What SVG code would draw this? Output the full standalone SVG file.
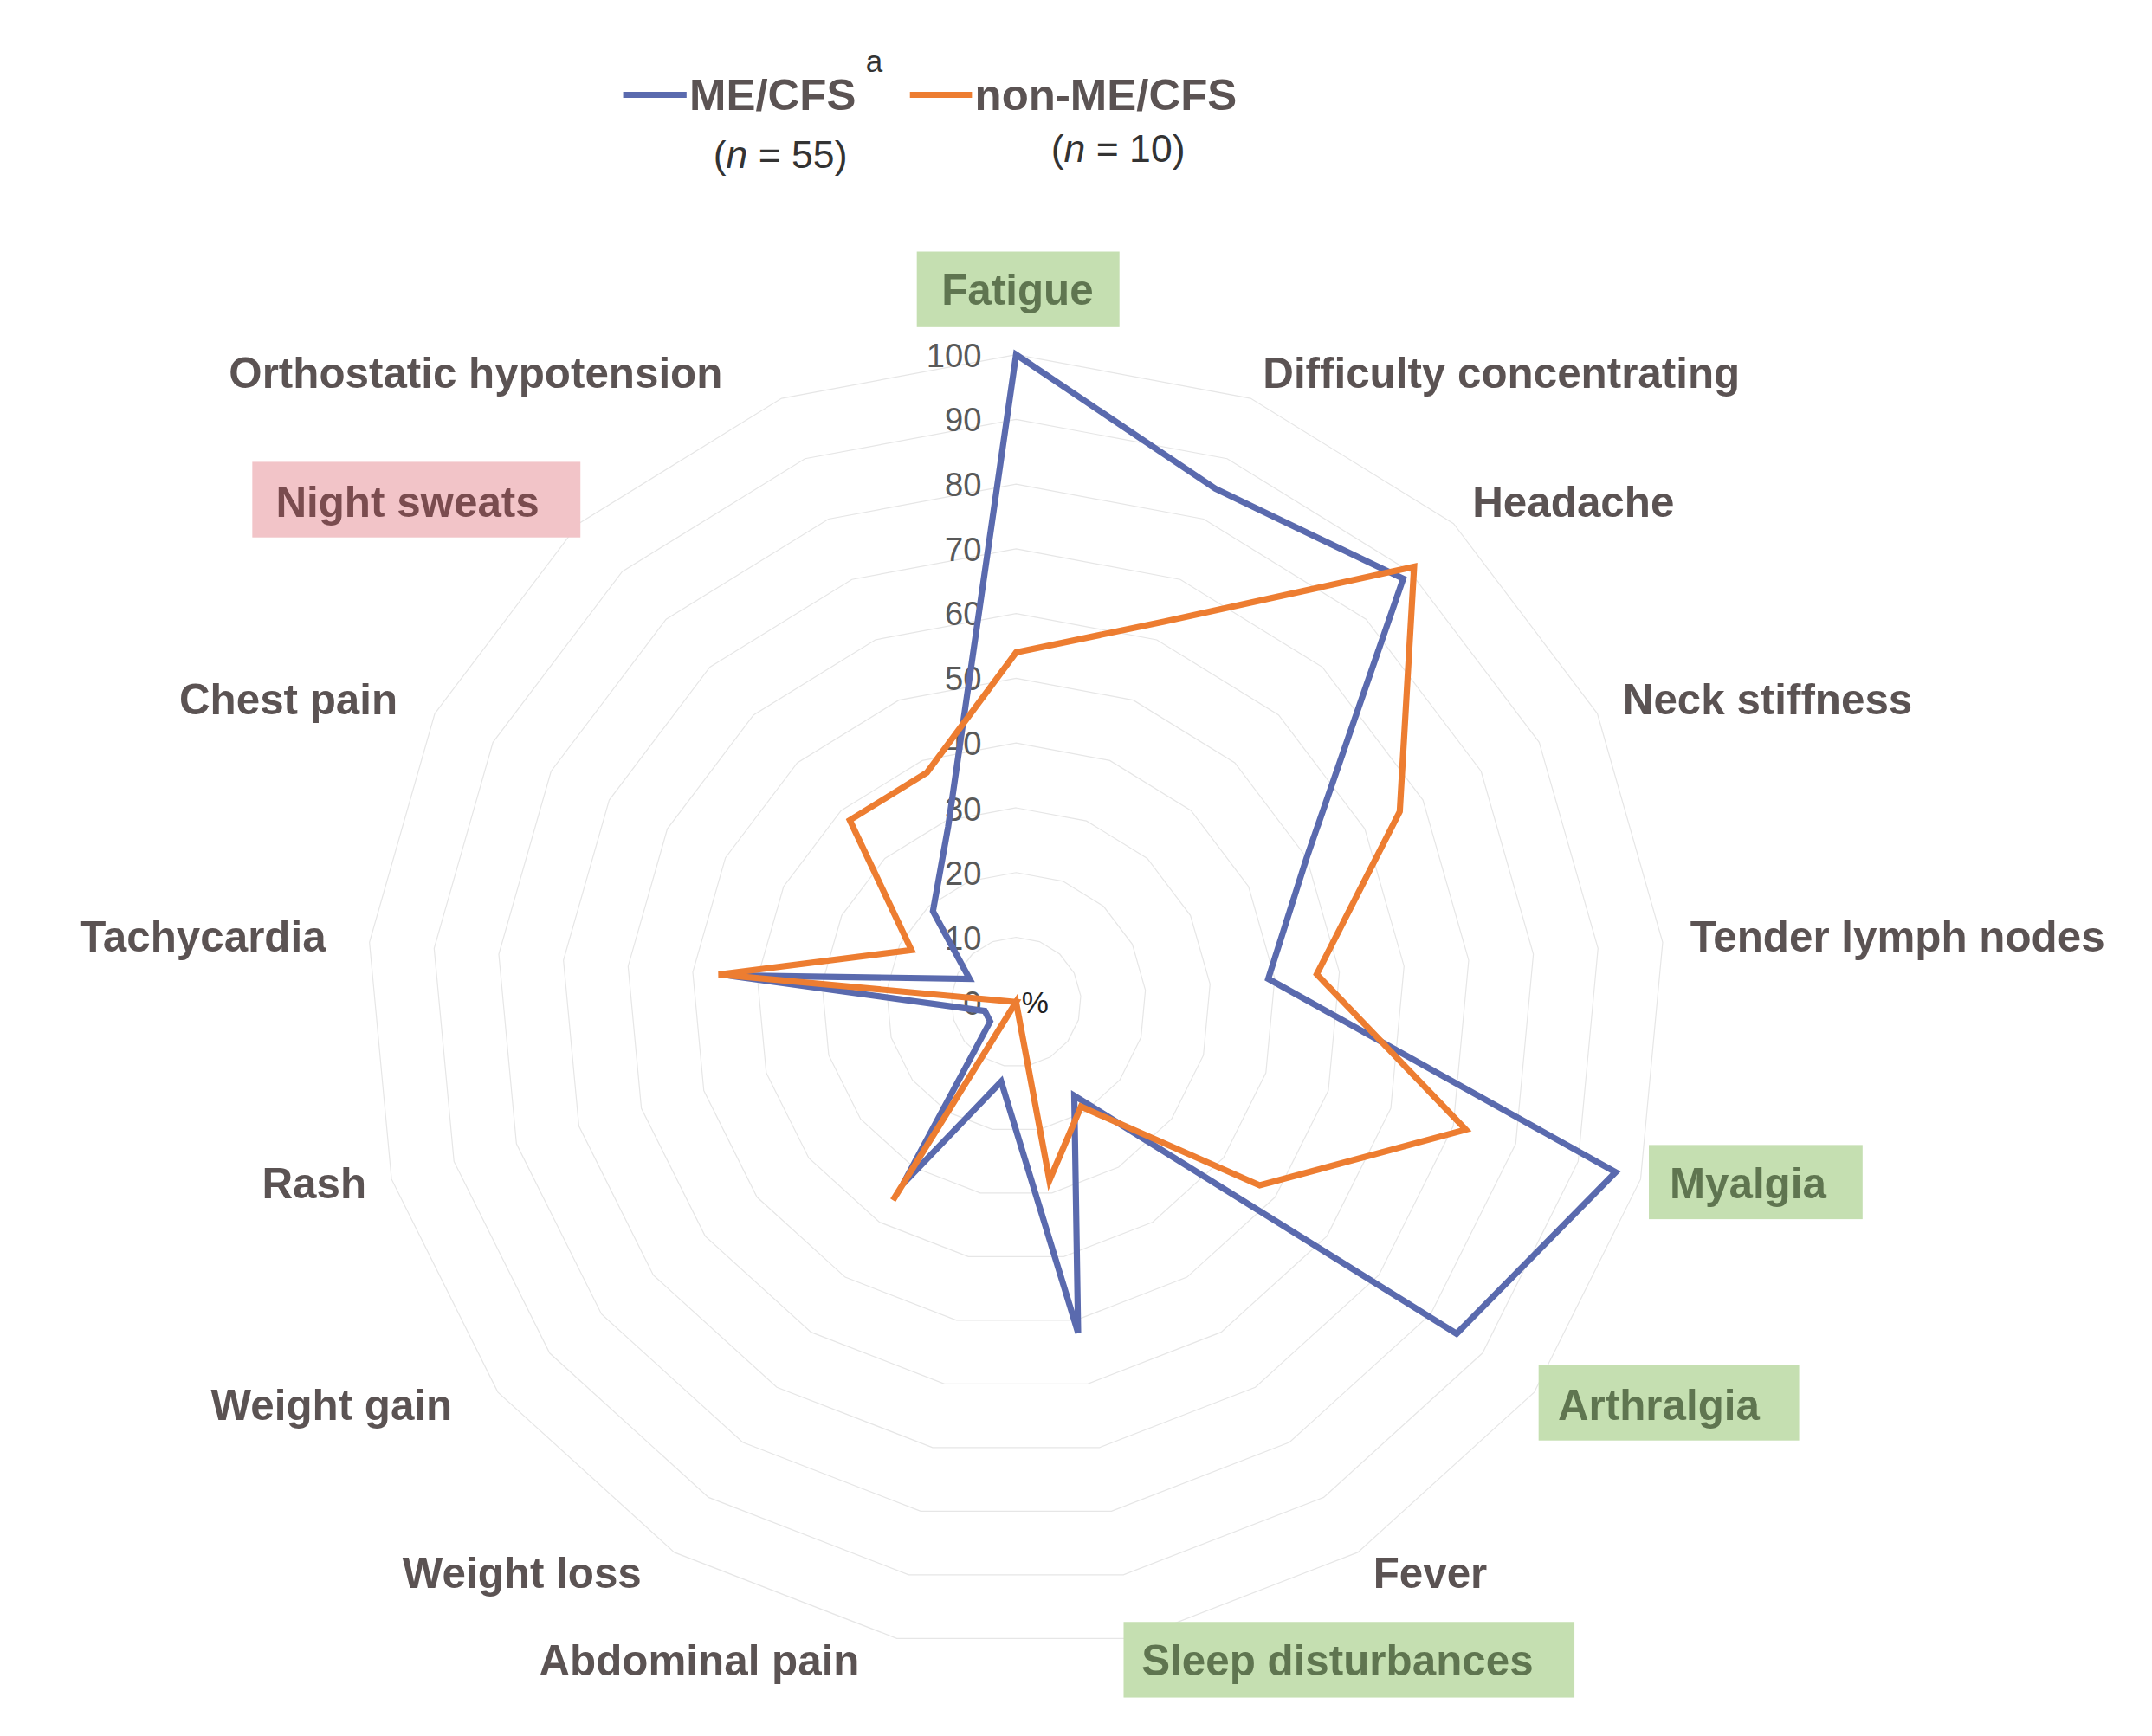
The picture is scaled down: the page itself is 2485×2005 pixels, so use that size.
<svg xmlns="http://www.w3.org/2000/svg" xmlns:xlink="http://www.w3.org/1999/xlink" width="2485" height="2005" viewBox="0 0 2485 2005">
<defs>
<style>
.lab{font-family:"Liberation Sans",Arial,sans-serif;font-weight:bold;font-size:31px;fill:#5b5353}
.tick{font-family:"Liberation Sans",Arial,sans-serif;font-size:24px;fill:#595959;text-anchor:end}
.grid{fill:none;stroke:#e6e6e6;stroke-width:1.2;vector-effect:non-scaling-stroke}
.blue{fill:none;stroke:#5a6aae;stroke-width:4.5;stroke-linejoin:miter}
.orange{fill:none;stroke:#ed7d31;stroke-width:4.5;stroke-linejoin:miter}
.leg{font-family:"Liberation Sans",Arial,sans-serif;font-size:28px;fill:#333;text-anchor:middle}
</style>
<polygon id="ring" class="grid" points="0,-47.1 17.01,-43.92 31.73,-34.81 42.16,-20.99 46.9,-4.34 45.3,12.89 37.59,28.38 24.79,40.04 8.65,46.3 -8.65,46.3 -24.79,40.04 -37.59,28.38 -45.3,12.89 -46.9,-4.34 -42.16,-20.99 -31.73,-34.81 -17.01,-43.92"/>
</defs>
<rect width="2485" height="2005" fill="#fff"/>
<g transform="scale(1.592,1.5875)">
<g id="grid">
<use xlink:href="#ring" transform="translate(737,729) scale(1)"/>
<use xlink:href="#ring" transform="translate(737,729) scale(2)"/>
<use xlink:href="#ring" transform="translate(737,729) scale(3)"/>
<use xlink:href="#ring" transform="translate(737,729) scale(4)"/>
<use xlink:href="#ring" transform="translate(737,729) scale(5)"/>
<use xlink:href="#ring" transform="translate(737,729) scale(6)"/>
<use xlink:href="#ring" transform="translate(737,729) scale(7)"/>
<use xlink:href="#ring" transform="translate(737,729) scale(8)"/>
<use xlink:href="#ring" transform="translate(737,729) scale(9)"/>
<use xlink:href="#ring" transform="translate(737,729) scale(10)"/>
</g>
<g id="ticks">
<text class="tick" x="712" y="267">100</text>
<text class="tick" x="712" y="314">90</text>
<text class="tick" x="712" y="361">80</text>
<text class="tick" x="712" y="408">70</text>
<text class="tick" x="712" y="455">60</text>
<text class="tick" x="712" y="502">50</text>
<text class="tick" x="712" y="549">40</text>
<text class="tick" x="712" y="597">30</text>
<text class="tick" x="712" y="644">20</text>
<text class="tick" x="712" y="691">10</text>
<text class="tick" x="712" y="738">0</text>
<text x="741" y="737" style="font-family:'Liberation Sans',Arial,sans-serif;font-size:22px;fill:#222">%</text>
</g>
<g id="series">
<polygon class="blue" points="737,258 881.6,355.6 1017.8,421 947.8,624 919.9,712.1 1171.9,852.8 1056.5,970.3 779.2,797.1 782,969.7 726.2,786.9 655.2,861.1 718.2,743.2 714.3,735.5 525.9,709.5 703.3,712.2 676.7,662.9 687.7,601.6"/>
<polygon class="orange" points="737,474.7 844.2,452.3 1025.7,412.3 1015.3,590.4 955.1,708.8 1063.2,821.8 913.7,862.4 784.1,805.1 761.2,858.7 737,729 647.7,873.2 737,729 737,729 521.2,709 661.1,691.2 616.4,596.7 672.3,562.1"/>
</g>
<g id="legend">
<line x1="452" y1="69" x2="498" y2="69" stroke="#5a6aae" stroke-width="4.5"/>
<text class="lab" x="500" y="80" style="font-size:32px">ME/CFS</text>
<text x="628" y="52" style="font-family:'Liberation Sans',Arial,sans-serif;font-size:22px;fill:#333">a</text>
<line x1="660" y1="69" x2="705" y2="69" stroke="#ed7d31" stroke-width="4.5"/>
<text class="lab" x="707" y="80" style="font-size:32px">non-ME/CFS</text>
<text class="leg" x="566" y="122">(<tspan font-style="italic">n</tspan> = 55)</text>
<text class="leg" x="811" y="118">(<tspan font-style="italic">n</tspan> = 10)</text>
</g>
<g id="label-fatigue"><rect x="665" y="183" width="147" height="55" fill="#c5dfb1"/><text class="lab" x="738" y="222" text-anchor="middle" style="fill:#5f7550">Fatigue</text></g>
<g id="label-difficulty"><text class="lab" x="916" y="282">Difficulty concentrating</text></g>
<g id="label-headache"><text class="lab" x="1068" y="376">Headache</text></g>
<g id="label-neck"><text class="lab" x="1177" y="520">Neck stiffness</text></g>
<g id="label-tender"><text class="lab" x="1226" y="692">Tender lymph nodes</text></g>
<g id="label-myalgia"><rect x="1196" y="833" width="155" height="54" fill="#c5dfb1"/><text class="lab" x="1211" y="872" style="fill:#5f7550">Myalgia</text></g>
<g id="label-arthralgia"><rect x="1116" y="993" width="189" height="55" fill="#c5dfb1"/><text class="lab" x="1130" y="1033" style="fill:#5f7550">Arthralgia</text></g>
<g id="label-fever"><text class="lab" x="996" y="1155">Fever</text></g>
<g id="label-sleep"><rect x="815" y="1180" width="327" height="55" fill="#c5dfb1"/><text class="lab" x="828" y="1219" style="fill:#5f7550">Sleep disturbances</text></g>
<g id="label-abdominal"><text class="lab" x="391" y="1219">Abdominal pain</text></g>
<g id="label-weightloss"><text class="lab" x="292" y="1155">Weight loss</text></g>
<g id="label-weightgain"><text class="lab" x="153" y="1033">Weight gain</text></g>
<g id="label-rash"><text class="lab" x="190" y="872">Rash</text></g>
<g id="label-tachycardia"><text class="lab" x="58" y="692">Tachycardia</text></g>
<g id="label-chest"><text class="lab" x="130" y="520">Chest pain</text></g>
<g id="label-nightsweats"><rect x="183" y="336" width="238" height="55" fill="#f2c4c8"/><text class="lab" x="200" y="376" style="fill:#7a4c4f">Night sweats</text></g>
<g id="label-orthostatic"><text class="lab" x="166" y="282">Orthostatic hypotension</text></g>
</g>
</svg>
